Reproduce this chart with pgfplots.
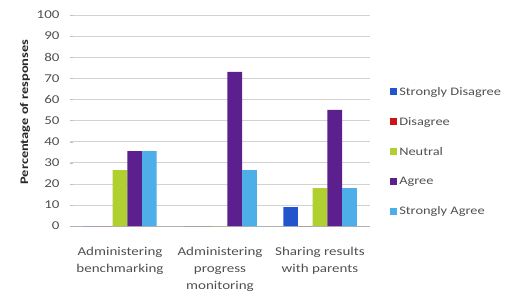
\documentclass[border=0pt]{standalone}
\usepackage{pgfplots}
\pgfplotsset{compat=1.18}
\usepackage{fontspec}
\setmainfont{Carlito}[FakeStretch=1.25]
\definecolor{cSD}{RGB}{34,84,204}
\definecolor{cD}{RGB}{204,20,20}
\definecolor{cN}{RGB}{176,208,48}
\definecolor{cA}{RGB}{92,31,142}
\definecolor{cSA}{RGB}{77,174,232}
\definecolor{txt}{RGB}{80,80,80}
\begin{document}
\begin{tikzpicture}
\path[use as bounding box] (-70pt,-77pt) rectangle (450pt,226pt);
\begin{axis}[
  at={(0pt,0pt)}, anchor=south west,
  scale only axis, width=300pt, height=211pt,
  ybar=0pt, bar width=14.7pt,
  xmin=-0.5, xmax=2.5, ymin=0, ymax=100,
  xtick=data,
  xticklabels={{Administering\\benchmarking},{Administering\\progress\\monitoring},{Sharing results\\with parents}},
  xticklabel style={align=center, font=\fontsize{12}{17}\selectfont, text=txt, yshift=-15pt},
  ytick={0,10,...,100},
  yticklabel style={font=\fontsize{12}{14}\selectfont, text=txt, xshift=-7pt},
  /pgf/number format/assume math mode=true,
  ymajorgrids, grid style={gray!35, line width=0.6pt},
  axis x line*=bottom, axis y line*=left,
  x axis line style={gray!60, line width=0.6pt, -},
  y axis line style={draw=none},
  xtick style={draw=none},
  ytick style={gray!50},
  major tick length=3pt,
  ylabel={\bfseries Percentage of responses},
  ylabel style={font=\fontsize{11.5}{13}\selectfont, text=black!85},
  every axis y label/.append style={at={(rel axis cs:0,0.54)}, anchor=center, yshift=45pt},
  legend style={at={(rel axis cs:1.067,0.668)}, anchor=north west, draw=none, fill=none,
    font=\fontsize{11.5}{13}\selectfont, text=txt, row sep=16.5pt, inner sep=0pt,
    /tikz/every even column/.append style={column sep=6pt}},
  legend image code/.code={\fill[#1] (0pt,-3.5pt) rectangle (7pt,3.5pt);},
  legend cell align=left,
]
\addplot[fill=cSD, draw=none] coordinates {(0,0) (1,0) (2,9)};
\addplot[fill=cD, draw=none] coordinates {(0,0) (1,0) (2,0)};
\addplot[fill=cN, draw=none] coordinates {(0,26.5) (1,0) (2,18)};
\addplot[fill=cA, draw=none] coordinates {(0,35.5) (1,73) (2,55)};
\addplot[fill=cSA, draw=none] coordinates {(0,35.5) (1,26.5) (2,18)};
\legend{Strongly Disagree, Disagree, Neutral, Agree, Strongly Agree}
\end{axis}
\end{tikzpicture}
\end{document}
